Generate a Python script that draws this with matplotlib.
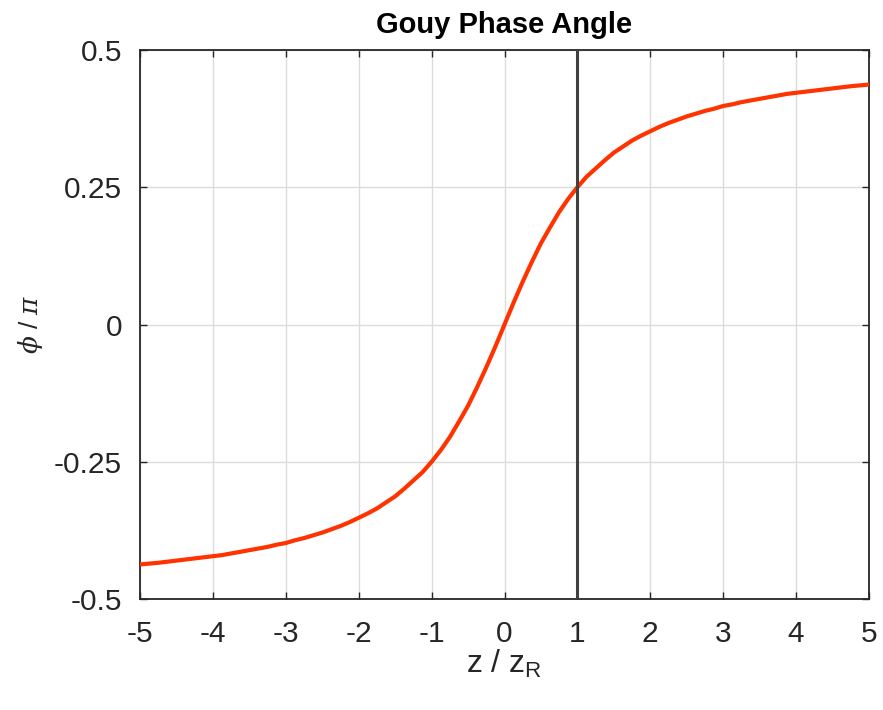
import matplotlib.pyplot as plt

# z / z_R samples (positive half) and the Gouy phase in units of pi
z_pos = [0.0, 0.125, 0.25, 0.375, 0.5, 0.625, 0.75, 0.875, 1.0, 1.125,
         1.25, 1.375, 1.5, 1.625, 1.75, 1.875, 2.0, 2.125, 2.25, 2.375,
         2.5, 2.625, 2.75, 2.875, 3.0, 3.125, 3.25, 3.375, 3.5, 3.625,
         3.75, 3.875, 4.0, 4.25, 4.5, 4.75, 5.0]
phase_pos = [0.0, 0.040, 0.078, 0.114, 0.148, 0.177, 0.205, 0.229, 0.250,
             0.269, 0.284, 0.299, 0.313, 0.324, 0.335, 0.344, 0.352, 0.360,
             0.367, 0.373, 0.379, 0.384, 0.389, 0.393, 0.398, 0.401, 0.405,
             0.408, 0.411, 0.414, 0.417, 0.420, 0.422, 0.426, 0.430, 0.434,
             0.437]
marker_z = 1.0

# the phase is odd in z, so the negative half mirrors the table
z = [-v for v in z_pos[:0:-1]] + z_pos
phase = [-v for v in phase_pos[:0:-1]] + phase_pos

xticks = list(range(-5, 6))
yticks = [-0.5, -0.25, 0, 0.25, 0.5]
ytick_labels = ["-0.5", "-0.25", "0", "0.25", "0.5"]

plt.rcParams['font.family'] = ['Liberation Sans', 'DejaVu Sans']
plt.rcParams['mathtext.fontset'] = 'dejavuserif'

fig = plt.figure(figsize=(8.83, 7.10), dpi=100)
ax = fig.add_axes([0.1586, 0.1563, 0.8255, 0.7733])

ax.plot(z, phase, color='#ff3300', linewidth=3.0, solid_joinstyle='round',
        solid_capstyle='butt', zorder=3)
ax.axvline(marker_z, color='#404040', linewidth=2.2, zorder=4)

ax.set_xlim(-5, 5)
ax.set_ylim(-0.5, 0.5)
ax.set_xticks(xticks)
ax.set_xticklabels([str(t) for t in xticks])
ax.set_yticks(yticks)
ax.set_yticklabels(ytick_labels)

ax.grid(True, color='#dcdcdc', linewidth=1.0)
ax.set_axisbelow(True)
ax.tick_params(direction='in', length=5, width=1.0, color='#262626',
               labelsize=21.5, labelcolor='#262626', top=True, right=True)
ax.tick_params(axis='x', pad=15)
ax.tick_params(axis='y', pad=13)
for s in ax.spines.values():
    s.set_color('#262626')
    s.set_linewidth(1.3)

ax.set_title("Gouy Phase Angle", fontsize=21, fontweight='bold', color='black', pad=12)
ax.set_xlabel(r"z / z$_{\mathregular{R}}$", fontsize=23, color='#262626', labelpad=0)
ax.set_ylabel(r"$\phi$ / $\pi$", fontsize=19, color='#262626')
ax.yaxis.set_label_coords(-0.13, 0.5)

fig.savefig("out.png", dpi=100)
